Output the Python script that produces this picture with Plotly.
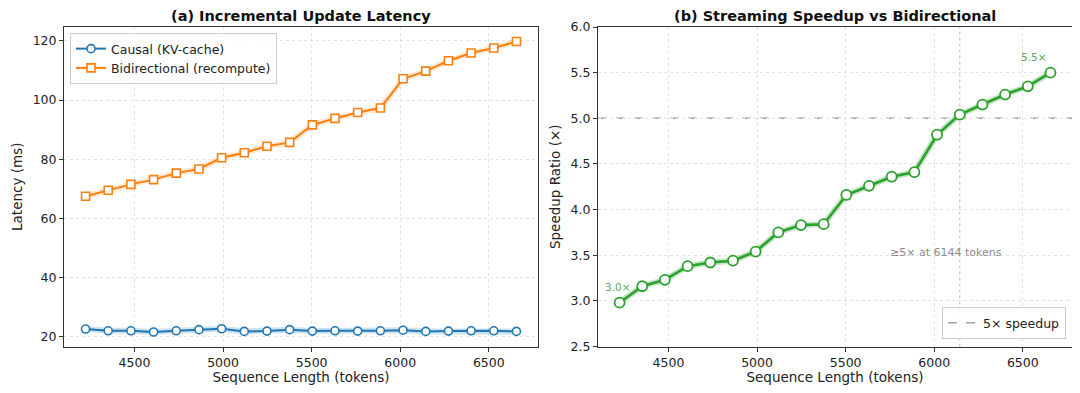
import plotly.graph_objects as go

# ---- data ----
seq_len = [4224, 4352, 4480, 4608, 4736, 4864, 4992, 5120, 5248, 5376,
           5504, 5632, 5760, 5888, 6016, 6144, 6272, 6400, 6528, 6656]
causal_ms = [22.6, 22.0, 22.0, 21.6, 22.0, 22.4, 22.7, 21.8, 21.9, 22.4,
             21.9, 22.0, 21.9, 22.0, 22.2, 21.8, 21.9, 22.0, 22.0, 21.8]
bidir_ms = [67.5, 69.5, 71.5, 73.1, 75.3, 76.7, 80.5, 82.2, 84.4, 85.7,
            91.6, 93.8, 95.8, 97.3, 107.2, 109.8, 113.3, 115.9, 117.6, 119.8]
speedup = [2.98, 3.16, 3.23, 3.38, 3.42, 3.44, 3.54, 3.75, 3.83, 3.84,
           4.16, 4.26, 4.36, 4.41, 4.82, 5.04, 5.15, 5.26, 5.35, 5.50]
threshold = 5.0
threshold_len = 6144
xticks = [4500, 5000, 5500, 6000, 6500]

BLUE = "#1f77b4"
ORANGE = "#ff7f0e"
GREEN = "#2ca02c"
FONT = "DejaVu Sans"

# page offset compensation (browser body margin 8px)
W, H, OFF = 1072, 385, 8
def px(xp):
    return (xp - OFF) / W
def py(yp):
    return 1 - (yp - OFF) / H

fig = go.Figure()

# halos (styling only)
for y, c, ax in [(causal_ms, "rgba(31,119,180,0.22)", ("x", "y")),
                 (bidir_ms, "rgba(255,127,14,0.18)", ("x", "y")),
                 (speedup, "rgba(44,160,44,0.28)", ("x2", "y2"))]:
    fig.add_trace(go.Scatter(x=seq_len, y=y, mode="lines", xaxis=ax[0], yaxis=ax[1],
                             line=dict(color=c, width=6), showlegend=False, hoverinfo="skip"))

fig.add_trace(go.Scatter(
    x=seq_len, y=causal_ms, mode="lines+markers", name="Causal (KV-cache)",
    line=dict(color=BLUE, width=2),
    marker=dict(symbol="circle", size=8, color="white", line=dict(color=BLUE, width=1.6)),
    xaxis="x", yaxis="y", legend="legend"))
fig.add_trace(go.Scatter(
    x=seq_len, y=bidir_ms, mode="lines+markers", name="Bidirectional (recompute)",
    line=dict(color=ORANGE, width=2),
    marker=dict(symbol="square", size=8, color="white", line=dict(color=ORANGE, width=1.6)),
    xaxis="x", yaxis="y", legend="legend"))
fig.add_trace(go.Scatter(
    x=seq_len, y=speedup, mode="lines+markers", name="Speedup",
    line=dict(color=GREEN, width=2.6),
    marker=dict(symbol="circle", size=10, color="white", line=dict(color=GREEN, width=1.8)),
    xaxis="x2", yaxis="y2", showlegend=False))

# threshold line (legend entry) and vertical marker
fig.add_shape(type="line", xref="x2 domain", yref="y2", x0=0, x1=1, y0=threshold, y1=threshold,
              line=dict(color="rgba(128,128,128,0.75)", width=1.5, dash="dash"),
              showlegend=True, name="5× speedup", legend="legend2", layer="below")
fig.add_shape(type="line", xref="x2", yref="y2 domain", x0=threshold_len, x1=threshold_len, y0=0, y1=1,
              line=dict(color="rgba(128,128,128,0.45)", width=1.2, dash="dot"), layer="below")

dom_y = [py(346.5), py(27)]
dom_x1 = [px(64), px(538)]
dom_x2 = [px(598), px(1072)]
axis_common = dict(showline=True, mirror=True, linecolor="#333333", linewidth=1,
                   ticks="outside", ticklen=4, tickcolor="#333333", automargin=False,
                   showgrid=True, gridcolor="#e3e3e3", griddash="dot", gridwidth=0.8,
                   zeroline=False, tickfont=dict(family=FONT, size=12.5, color="#222"),
                   title_font=dict(family=FONT, size=13.5, color="#222"))

fig.update_layout(
    width=W, height=H,
    margin=dict(l=0, r=0, t=0, b=0, autoexpand=False),
    paper_bgcolor="white", plot_bgcolor="white",
    font=dict(family=FONT, color="#222"),
    xaxis=dict(domain=dom_x1, range=[4102.4, 6777.6], tickvals=xticks,
               title=dict(text="Sequence Length (tokens)", standoff=3), anchor="y", **axis_common),
    yaxis=dict(domain=dom_y, range=[16.7, 124.7], tickvals=[20, 40, 60, 80, 100, 120],
               title=dict(text="Latency (ms)", standoff=6), anchor="x", **axis_common),
    xaxis2=dict(domain=dom_x2, range=[4102.4, 6777.6], tickvals=xticks,
                title=dict(text="Sequence Length (tokens)", standoff=3), anchor="y2", **axis_common),
    yaxis2=dict(domain=dom_y, range=[2.5, 6.0], tickvals=[2.5, 3.0, 3.5, 4.0, 4.5, 5.0, 5.5, 6.0],
                tickformat=".1f",
                title=dict(text="Speedup Ratio (×)", standoff=6), anchor="x2", **axis_common),
    legend=dict(x=px(70), y=py(33), xanchor="left", yanchor="top",
                bgcolor="rgba(255,255,255,0.85)", bordercolor="#cccccc", borderwidth=1,
                font=dict(family=FONT, size=12.5, color="#222"), tracegroupgap=0),
    legend2=dict(x=px(1066), y=py(339), xanchor="right", yanchor="bottom",
                 bgcolor="rgba(255,255,255,0.85)", bordercolor="#cccccc", borderwidth=1,
                 font=dict(family=FONT, size=12.5, color="#222")),
    annotations=[
        dict(text="<b>(a) Incremental Update Latency</b>", xref="paper", yref="paper",
             x=(dom_x1[0] + dom_x1[1]) / 2, y=py(16), showarrow=False, xanchor="center",
             font=dict(family=FONT, size=14.5, color="#111"), yanchor="middle"),
        dict(text="<b>(b) Streaming Speedup vs Bidirectional</b>", xref="paper", yref="paper",
             x=(dom_x2[0] + dom_x2[1]) / 2, y=py(16), showarrow=False, xanchor="center",
             font=dict(family=FONT, size=14.5, color="#111"), yanchor="middle"),
        dict(text=f"{speedup[0]:.1f}×", xref="x2", yref="y2", x=seq_len[0], y=speedup[0],
             showarrow=False, yshift=16, xshift=-2, font=dict(family=FONT, size=10.5, color="#5aab5a")),
        dict(text=f"{speedup[-1]:.1f}×", xref="x2", yref="y2", x=seq_len[-1], y=speedup[-1],
             showarrow=False, yshift=16, xshift=-16, font=dict(family=FONT, size=10.5, color="#5aab5a")),
        dict(text=f"≥5× at {threshold_len} tokens", xref="x2", yref="y2", x=6067, y=3.53,
             showarrow=False, font=dict(family=FONT, size=11, color="#8c8c8c")),
    ],
)

fig.write_html("out.html")
